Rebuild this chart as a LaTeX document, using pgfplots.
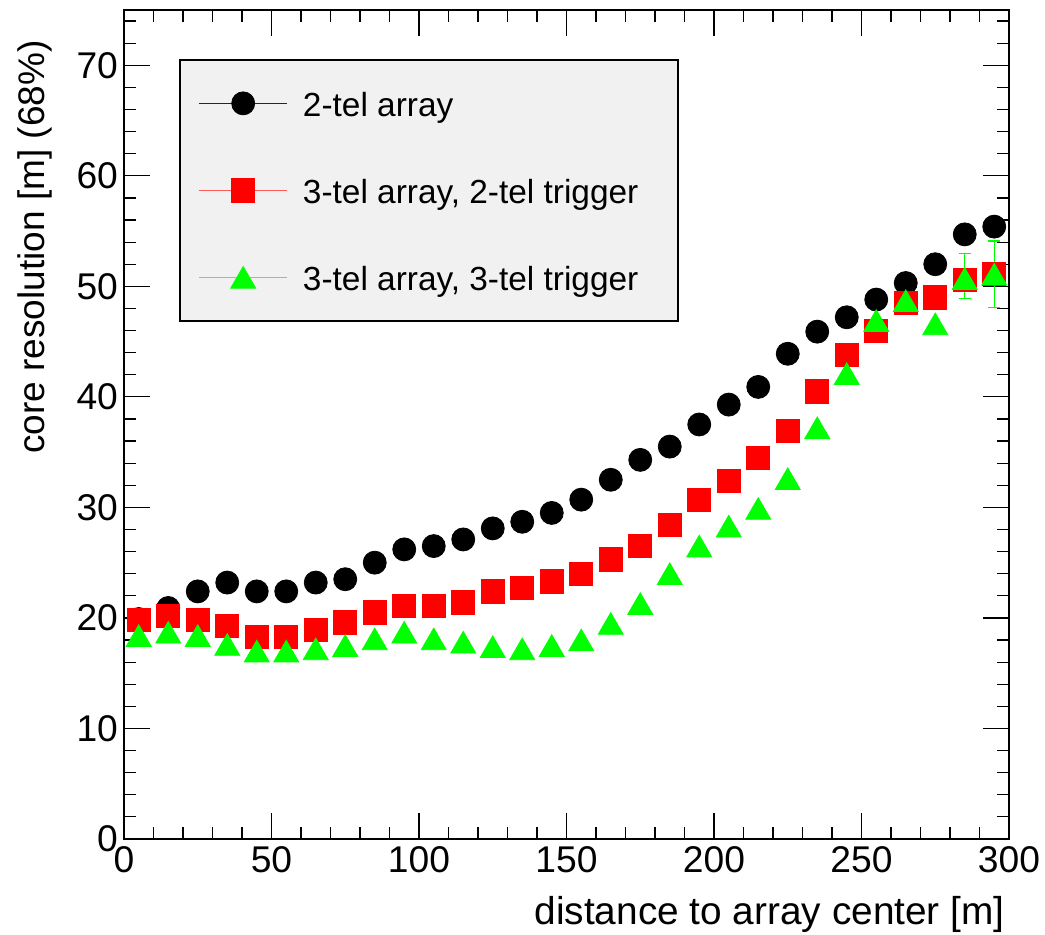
\documentclass[border=0pt]{standalone}
\usepackage{fontspec}
\setmainfont{Liberation Sans}
\usepackage{pgfplots}
\usepackage{pgfplotstable}
\pgfplotsset{compat=1.18}
\definecolor{legbg}{RGB}{241,241,241}
\definecolor{legred}{RGB}{255,90,90}
\definecolor{leggreen}{RGB}{80,240,80}

\pgfplotstableread{
x y
5 19.9
15 20.9
25 22.4
35 23.2
45 22.4
55 22.4
65 23.2
75 23.5
85 25.0
95 26.2
105 26.5
115 27.1
125 28.1
135 28.7
145 29.5
155 30.7
165 32.5
175 34.3
185 35.5
195 37.5
205 39.3
215 40.9
225 43.9
235 45.9
245 47.2
255 48.8
265 50.3
275 52.0
285 54.7
295 55.4
}\twotel

\pgfplotstableread{
x y
5 19.8
15 20.2
25 19.8
35 19.3
45 18.3
55 18.3
65 18.9
75 19.6
85 20.5
95 21.1
105 21.1
115 21.4
125 22.4
135 22.7
145 23.3
155 24.0
165 25.3
175 26.5
185 28.4
195 30.7
205 32.4
215 34.5
225 36.9
235 40.5
245 43.8
255 46.0
265 48.5
275 49.0
285 50.6
295 51.1
}\threetwo

\pgfplotstableread{
x y ep em
5 18.4 0 0
15 18.7 0 0
25 18.4 0 0
35 17.6 0 0
45 17.0 0 0
55 17.0 0 0
65 17.2 0 0
75 17.5 0 0
85 18.1 0 0
95 18.7 0 0
105 18.1 0 0
115 17.8 0 0
125 17.4 0 0
135 17.2 0 0
145 17.5 0 0
155 18.0 0 0
165 19.5 0 0
175 21.3 0 0
185 24.0 0 0
195 26.5 0 0
205 28.3 0 0
215 29.9 0 0
225 32.6 0 0
235 37.2 0 0
245 42.1 0 0
255 46.9 0 0
265 48.7 0 0
275 46.6 0 0
285 50.7 2.3 1.8
295 51.1 3.0 3.0
}\threethree

\begin{document}
\begin{tikzpicture}
\useasboundingbox (-62pt,-48pt) rectangle (460.5pt,419.5pt);
\draw[black, line width=0.6pt, fill=legbg] (28pt,259pt) rectangle (277pt,389.5pt);
\begin{axis}[
  at={(0pt,0pt)}, anchor=south west, scale only axis,
  width=442.5pt, height=414.5pt,
  xmin=0, xmax=300, ymin=0, ymax=75,
  xtick={0,50,...,300}, ytick={0,10,...,70},
  minor xtick={0,10,...,300}, minor ytick={0,2,...,74},
  tick align=inside, xtick pos=both, ytick pos=both,
  major tick length=13pt, minor tick length=6pt,
  tick style={black, line width=0.6pt},
  axis line style={line width=0.8pt},
  /pgf/number format/assume math mode=true,
  ticklabel style={font=\fontsize{18.6}{20}\selectfont},
  yticklabel style={xshift=0.5pt},
  legend style={draw=none, fill=none, at={(axis description cs:0.0836,0.9108)}, anchor=north west,
    inner sep=0pt, row sep=23.5pt, column sep=7.5pt,
    nodes={inner sep=0pt, text height=12pt, text depth=4pt, font=\fontsize{16.7}{20}\selectfont}},
  legend cell align=left,
  clip=false,
]
\addplot[black, only marks, mark=*, mark size=5.75pt,
  legend image code/.code={\path[draw=none, fill=none] (0pt,-4pt) rectangle (44pt,12pt);
    \draw[draw=black!85, line width=0.7pt] (0pt,2.5pt) -- (44pt,2.5pt);
    \draw[black, mark=*, mark size=5.75pt, only marks] plot coordinates {(22pt,2.5pt)};}]
  table[x=x, y=y] {\twotel};
\addlegendentry{2-tel array}
\addplot[red, only marks, mark=square*, mark size=5.8pt,
  legend image code/.code={\path[draw=none, fill=none] (0pt,-4pt) rectangle (44pt,12pt);
    \draw[draw=legred, line width=0.8pt] (0pt,2.5pt) -- (44pt,2.5pt);
    \draw[red, mark=square*, mark size=5.8pt, only marks] plot coordinates {(22pt,2.5pt)};}]
  table[x=x, y=y] {\threetwo};
\addlegendentry{3-tel array, 2-tel trigger}
\addplot[green, only marks, mark=triangle*, mark size=7.2pt, mark options={yshift=-1.8pt},
  legend image code/.code={\path[draw=none, fill=none] (0pt,-4pt) rectangle (44pt,12pt);
    \draw[draw=leggreen, line width=0.8pt] (0pt,2.5pt) -- (44pt,2.5pt);
    \draw[green, mark=triangle*, mark size=7.2pt, mark options={yshift=-1.8pt}, only marks] plot coordinates {(22pt,2.5pt)};},
  error bars/.cd, y dir=both, y explicit,
  error bar style={green, line width=0.6pt},
  error mark options={green, rotate=90, mark size=3pt, line width=0.6pt}]
  table[x=x, y=y, y error plus=ep, y error minus=em] {\threethree};
\addlegendentry{3-tel array, 3-tel trigger}
\end{axis}
\node[anchor=base east, inner sep=0pt, font=\fontsize{19.4}{22}\selectfont] at (440.5pt,-43pt) {distance to array center [m]};
\node[rotate=90, anchor=base east, inner sep=0pt, font=\fontsize{18.5}{22}\selectfont] at (-39.5pt,399.5pt) {core resolution [m] (68\%)};
\end{tikzpicture}
\end{document}
